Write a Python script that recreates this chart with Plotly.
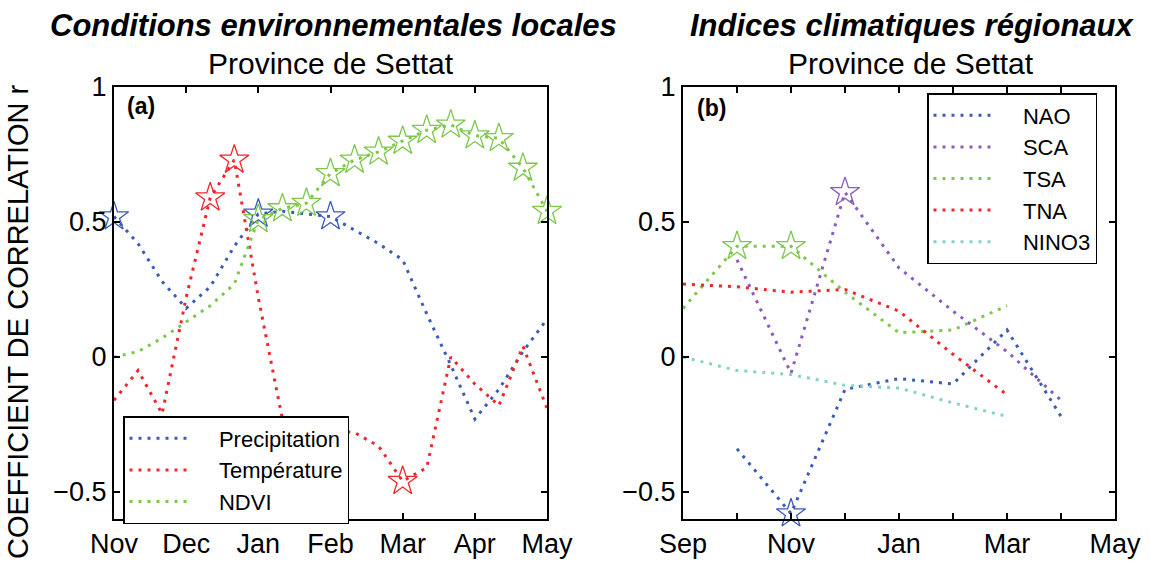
import plotly.graph_objects as go

# ---------------- Panel (a): local environmental conditions (dekadal lags) ----------------
months_a = ["Nov", "Dec", "Jan", "Feb", "Mar", "Apr", "May"]
lag_a = [i / 3 for i in range(19)]          # time in months after 1 Nov (dekads)
precip = [0.52, 0.42, 0.28, 0.18, 0.26, 0.41, 0.53, 0.54, 0.53, 0.52, 0.47, 0.42,
          0.36, 0.16, -0.03, -0.23, -0.12, 0.02, 0.14]
temp = [-0.16, -0.05, -0.21, 0.22, 0.59, 0.73, 0.22, -0.23, -0.26, -0.27, -0.28, -0.33,
        -0.46, -0.41, 0.0, -0.10, -0.18, 0.04, -0.19]
ndvi = [0.0, 0.02, 0.07, 0.13, 0.19, 0.27, 0.51, 0.55, 0.57, 0.68, 0.73, 0.76,
        0.80, 0.84, 0.86, 0.82, 0.81, 0.70, 0.54]
sig_precip = [0, 6, 9]
sig_temp = [4, 5, 12]
sig_ndvi = list(range(6, 19))

# ---------------- Panel (b): regional climate indices (monthly lags) ----------------
months_b = ["Sep", "", "Nov", "", "Jan", "", "Mar", "", "May"]
lag_b = list(range(8))                      # months after 1 Sep
nao = [None, -0.34, -0.58, -0.12, -0.08, -0.10, 0.10, -0.22]
sca = [None, 0.36, -0.06, 0.61, 0.33, 0.17, 0.02, -0.16]
tsa = [0.18, 0.41, 0.41, 0.24, 0.09, 0.10, 0.19, None]
tna = [0.27, 0.26, 0.24, 0.25, 0.17, 0.01, -0.14, None]
nino3 = [0.0, -0.05, -0.065, -0.105, -0.115, -0.17, -0.22, None]
sig_nao = [2]
sig_sca = [3]
sig_tsa = [1, 2]

BLUE = "#3B5BB8"
RED = "#F2262A"
GREEN = "#7CC84A"
PURPLE = "#8A5CBE"
CYAN = "#84D3C8"

FONT = "Liberation Sans"
DASH = "3px,6px"
PAD = "\u00a0" * 4

fig = go.Figure()


def add_series(x, y, sig, name, color, xa, ya, legend):
    fig.add_trace(go.Scatter(
        x=x, y=y, mode="lines", name=PAD + name, xaxis=xa, yaxis=ya, legend=legend,
        line=dict(color=color, width=3, dash=DASH), connectgaps=False))
    fig.add_trace(go.Scatter(
        x=[x[i] for i in sig], y=[y[i] for i in sig], mode="markers",
        showlegend=False, xaxis=xa, yaxis=ya, cliponaxis=False,
        marker=dict(symbol="star-open", size=22, color=color, line=dict(width=1.3))))


add_series(lag_a, precip, sig_precip, "Precipitation", BLUE, "x", "y", "legend")
add_series(lag_a, temp, sig_temp, "Température", RED, "x", "y", "legend")
add_series(lag_a, ndvi, sig_ndvi, "NDVI", GREEN, "x", "y", "legend")

add_series(lag_b, nao, sig_nao, "NAO", BLUE, "x2", "y2", "legend2")
add_series(lag_b, sca, sig_sca, "SCA", PURPLE, "x2", "y2", "legend2")
add_series(lag_b, tsa, sig_tsa, "TSA", GREEN, "x2", "y2", "legend2")
add_series(lag_b, tna, [], "TNA", RED, "x2", "y2", "legend2")
add_series(lag_b, nino3, [], "NINO3", CYAN, "x2", "y2", "legend2")

W, H = 1150, 576
axis_common = dict(showline=True, linecolor="black", linewidth=2, mirror="ticks",
                   ticks="inside", ticklen=6, tickwidth=1.5, tickcolor="black",
                   showgrid=False, zeroline=False, automargin=False,
                   tickfont=dict(family=FONT, size=27, color="black"))

yticks = [-0.5, 0, 0.5, 1]
ytext = ["\u22120.5", "0", "0.5", "1"]

legend_common = dict(xanchor="left", yanchor="top", bgcolor="white",
                     bordercolor="black", borderwidth=1.5,
                     font=dict(family=FONT, size=22, color="black"),
                     itemwidth=60, tracegroupgap=0)

fig.update_layout(
    width=W, height=H, margin=dict(l=0, r=0, t=0, b=0, autoexpand=False),
    paper_bgcolor="white", plot_bgcolor="white",
    font=dict(family=FONT, color="black"),
    xaxis=dict(domain=[114 / W, 547 / W], range=[0, 6], tickvals=list(range(7)),
               ticktext=months_a, **axis_common),
    yaxis=dict(domain=[1 - 519 / H, 1 - 87 / H], range=[-0.6, 1], tickvals=yticks,
               ticktext=ytext, anchor="x", **axis_common),
    xaxis2=dict(domain=[683 / W, 1115 / W], range=[0, 8], tickvals=list(range(9)),
                ticktext=months_b, anchor="y2", **axis_common),
    yaxis2=dict(domain=[1 - 519 / H, 1 - 87 / H], range=[-0.6, 1], tickvals=yticks,
                ticktext=ytext, anchor="x2", **axis_common),
    legend=dict(x=123 / W, y=1 - 416 / H, **legend_common),
    legend2=dict(x=927 / W, y=1 - 93 / H, **legend_common),
    showlegend=True,
)

annotations = [
    dict(text="<b><i>Conditions environnementales locales</i></b>", x=333 / W, y=1 - 25 / H,
         font=dict(size=31)),
    dict(text="Province de Settat", x=331 / W, y=1 - 63 / H, font=dict(size=30)),
    dict(text="<b><i>Indices climatiques régionaux</i></b>", x=912 / W, y=1 - 25 / H,
         font=dict(size=31)),
    dict(text="Province de Settat", x=911 / W, y=1 - 63 / H, font=dict(size=30)),
    dict(text="COEFFICIENT DE CORRELATION r", x=18 / W, y=1 - 322 / H, textangle=-90,
         font=dict(size=29)),
    dict(text="<b>(a)</b>", x=141 / W, y=1 - 106 / H, font=dict(size=23)),
    dict(text="<b>(b)</b>", x=711 / W, y=1 - 108 / H, font=dict(size=23)),
]
for a in annotations:
    a.update(xref="paper", yref="paper", showarrow=False, xanchor="center", yanchor="middle")
    a["font"].update(family=FONT, color="black")
fig.update_layout(annotations=annotations)

fig.write_html("out.html")
